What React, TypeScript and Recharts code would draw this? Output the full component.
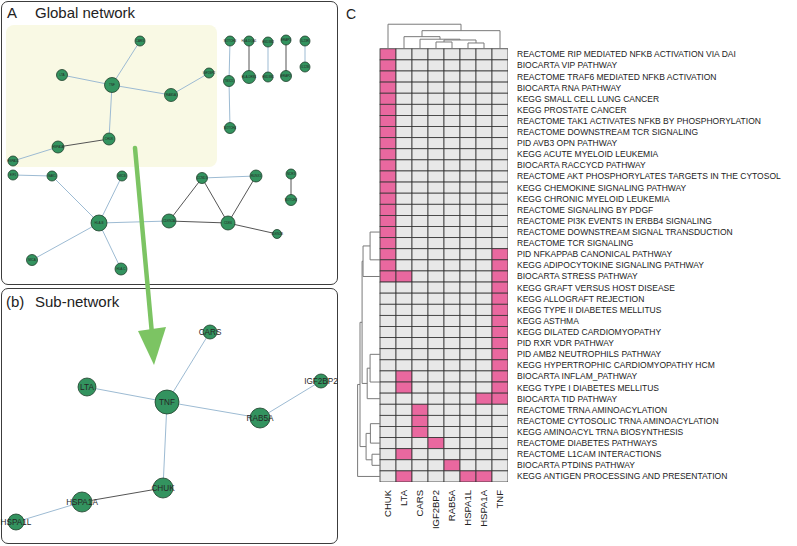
import { ScatterChart, Scatter, XAxis, YAxis } from 'recharts';

const FONT = '"Liberation Sans", Arial, Helvetica, sans-serif';

// ---------- panel C: gene x pathway membership ----------
const genes = ['CHUK', 'LTA', 'CARS', 'IGF2BP2', 'RAB5A', 'HSPA1L', 'HSPA1A', 'TNF'];

const pathways = [
  'REACTOME RIP MEDIATED NFKB ACTIVATION VIA DAI',
  'BIOCARTA VIP PATHWAY',
  'REACTOME TRAF6 MEDIATED NFKB ACTIVATION',
  'BIOCARTA RNA PATHWAY',
  'KEGG SMALL CELL LUNG CANCER',
  'KEGG PROSTATE CANCER',
  'REACTOME TAK1 ACTIVATES NFKB BY PHOSPHORYLATION',
  'REACTOME DOWNSTREAM TCR SIGNALING',
  'PID AVB3 OPN PATHWAY',
  'KEGG ACUTE MYELOID LEUKEMIA',
  'BIOCARTA RACCYCD PATHWAY',
  'REACTOME AKT PHOSPHORYLATES TARGETS IN THE CYTOSOL',
  'KEGG CHEMOKINE SIGNALING PATHWAY',
  'KEGG CHRONIC MYELOID LEUKEMIA',
  'REACTOME SIGNALING BY PDGF',
  'REACTOME PI3K EVENTS IN ERBB4 SIGNALING',
  'REACTOME DOWNSTREAM SIGNAL TRANSDUCTION',
  'REACTOME TCR SIGNALING',
  'PID NFKAPPAB CANONICAL PATHWAY',
  'KEGG ADIPOCYTOKINE SIGNALING PATHWAY',
  'BIOCARTA STRESS PATHWAY',
  'KEGG GRAFT VERSUS HOST DISEASE',
  'KEGG ALLOGRAFT REJECTION',
  'KEGG TYPE II DIABETES MELLITUS',
  'KEGG ASTHMA',
  'KEGG DILATED CARDIOMYOPATHY',
  'PID RXR VDR PATHWAY',
  'PID AMB2 NEUTROPHILS PATHWAY',
  'KEGG HYPERTROPHIC CARDIOMYOPATHY HCM',
  'BIOCARTA INFLAM_PATHWAY',
  'KEGG TYPE I DIABETES MELLITUS',
  'BIOCARTA TID PATHWAY',
  'REACTOME TRNA AMINOACYLATION',
  'REACTOME CYTOSOLIC TRNA AMINOACYLATION',
  'KEGG AMINOACYL TRNA BIOSYNTHESIS',
  'REACTOME DIABETES PATHWAYS',
  'REACTOME L1CAM INTERACTIONS',
  'BIOCARTA PTDINS PATHWAY',
  'KEGG ANTIGEN PROCESSING AND PRESENTATION',
];

const pathwayHits: string[][] = [
  ['CHUK'], ['CHUK'], ['CHUK'], ['CHUK'], ['CHUK'], ['CHUK'],
  ['CHUK'], ['CHUK'], ['CHUK'], ['CHUK'], ['CHUK'], ['CHUK'],
  ['CHUK'], ['CHUK'], ['CHUK'], ['CHUK'], ['CHUK'], ['CHUK'],
  ['CHUK', 'TNF'], ['CHUK', 'TNF'],
  ['CHUK', 'LTA', 'TNF'],
  ['TNF'], ['TNF'], ['TNF'], ['TNF'], ['TNF'], ['TNF'], ['TNF'], ['TNF'],
  ['LTA', 'TNF'], ['LTA', 'TNF'],
  ['HSPA1A', 'TNF'],
  ['CARS'], ['CARS'], ['CARS'],
  ['IGF2BP2'],
  ['LTA'],
  ['RAB5A'],
  ['LTA', 'HSPA1L', 'HSPA1A'],
];

// column dendrogram: [left, right, merge height]
const colMerges: [string, string, number][] = [
  ['IGF2BP2', 'RAB5A', 0.61],
  ['HSPA1L', 'HSPA1A', 0.52],
  ['m0', 'm1', 0.79],
  ['CARS', 'm2', 0.86],
  ['LTA', 'm3', 1.09],
  ['m4', 'TNF', 1.63],
  ['CHUK', 'm5', 2.21],
];

// row groups of identical rows [first, last]
const rowGroups: [number, number][] = [
  [0, 17], [18, 19], [20, 20], [21, 28], [29, 30], [31, 31],
  [32, 34], [35, 35], [36, 36], [37, 37], [38, 38],
];

// row dendrogram: [upper, lower, merge depth]
const rowMerges: [string, string, number][] = [
  ['g0', 'g1', 0.62],
  ['m0', 'g2', 1.06],
  ['g3', 'g4', 0.62],
  ['m2', 'g5', 0.8],
  ['m1', 'm3', 1.12],
  ['g6', 'g7', 0.6],
  ['g8', 'g9', 0.5],
  ['m5', 'm6', 0.87],
  ['m4', 'm7', 1.25],
  ['m8', 'g10', 1.4],
];

// ---------- panels A / B: network layouts ----------
type Node = { id: string; x: number; y: number; r: number };

const globalNodes: Node[] = [
  { id: 'CARS', x: 140, y: 41, r: 5 },
  { id: 'LTA', x: 62, y: 75, r: 5.5 },
  { id: 'TNF', x: 112, y: 85, r: 7.5 },
  { id: 'IGF2BP2', x: 209, y: 73, r: 5 },
  { id: 'RAB5A', x: 171, y: 95, r: 6.5 },
  { id: 'CHUK', x: 109, y: 139, r: 6 },
  { id: 'HSPA1A', x: 58, y: 147, r: 6 },
  { id: 'HSPA1L', x: 13, y: 161, r: 5 },
  { id: 'NOTCH3', x: 230, y: 41, r: 5 },
  { id: 'TBX21', x: 229, y: 81, r: 5.5 },
  { id: 'NOTCH4', x: 230, y: 128, r: 5.5 },
  { id: 'HLA-DQA1', x: 249, y: 41, r: 5 },
  { id: 'HLA-DRB1', x: 249, y: 77, r: 6.5 },
  { id: 'HSD3B2', x: 268, y: 42, r: 5 },
  { id: 'HSD3B1', x: 268, y: 77, r: 5 },
  { id: 'ERAP1', x: 286, y: 40, r: 5 },
  { id: 'ERAP2', x: 286, y: 76, r: 5.5 },
  { id: 'IL23R', x: 305, y: 41, r: 5 },
  { id: 'IL12B', x: 305, y: 67, r: 5 },
  { id: 'EIF1', x: 13, y: 175, r: 5 },
  { id: 'BAK1', x: 52, y: 176, r: 5 },
  { id: 'MICB', x: 122, y: 176, r: 5 },
  { id: 'HLA-B', x: 99, y: 223, r: 8 },
  { id: 'MICA', x: 32, y: 260, r: 5.5 },
  { id: 'HLA-C', x: 121, y: 269, r: 6 },
  { id: 'CDKN2A', x: 169, y: 221, r: 7 },
  { id: 'CCND1', x: 202, y: 178, r: 5.5 },
  { id: 'RUNX1', x: 256, y: 176, r: 6 },
  { id: 'CDK6', x: 228, y: 223, r: 7 },
  { id: 'CDKN2B', x: 277, y: 234, r: 4.5 },
  { id: 'NCR3', x: 291, y: 174, r: 5 },
  { id: 'NOTCH2', x: 291, y: 200, r: 5.5 },
];

// [source, target, kind] kind: 'p' = blue, 'g' = grey
const globalEdges: [string, string, string][] = [
  ['TNF', 'CARS', 'p'], ['TNF', 'LTA', 'p'], ['TNF', 'RAB5A', 'p'],
  ['RAB5A', 'IGF2BP2', 'p'], ['TNF', 'CHUK', 'p'], ['CHUK', 'HSPA1A', 'g'],
  ['HSPA1A', 'HSPA1L', 'p'],
  ['NOTCH3', 'TBX21', 'p'], ['TBX21', 'NOTCH4', 'p'],
  ['HLA-DQA1', 'HLA-DRB1', 'g'], ['HSD3B2', 'HSD3B1', 'p'], ['ERAP1', 'ERAP2', 'g'],
  ['IL23R', 'IL12B', 'p'],
  ['EIF1', 'BAK1', 'p'], ['BAK1', 'HLA-B', 'p'], ['MICB', 'HLA-B', 'p'],
  ['MICA', 'HLA-B', 'p'], ['HLA-C', 'HLA-B', 'p'], ['HLA-B', 'CDKN2A', 'p'],
  ['CDKN2A', 'CCND1', 'g'], ['CCND1', 'RUNX1', 'p'], ['CCND1', 'CDK6', 'g'],
  ['RUNX1', 'CDK6', 'g'], ['CDKN2A', 'CDK6', 'g'], ['CDK6', 'CDKN2B', 'g'],
  ['NCR3', 'NOTCH2', 'g'],
];

const subNodes: Node[] = [
  { id: 'CARS', x: 210, y: 332, r: 7 },
  { id: 'LTA', x: 87, y: 387, r: 9 },
  { id: 'TNF', x: 167, y: 402, r: 12 },
  { id: 'RAB5A', x: 260, y: 418, r: 10 },
  { id: 'IGF2BP2', x: 321, y: 381, r: 7 },
  { id: 'CHUK', x: 163, y: 488, r: 10 },
  { id: 'HSPA1A', x: 82, y: 502, r: 10 },
  { id: 'HSPA1L', x: 16, y: 522, r: 8 },
];

const subEdges: [string, string, string][] = [
  ['TNF', 'CARS', 'p'], ['TNF', 'LTA', 'p'], ['TNF', 'RAB5A', 'p'],
  ['RAB5A', 'IGF2BP2', 'p'], ['TNF', 'CHUK', 'p'], ['CHUK', 'HSPA1A', 'g'],
  ['HSPA1A', 'HSPA1L', 'p'],
];

// arrow from the highlighted module down to panel B
const arrowPath = [
  { x: 135, y: 148 },
  { x: 152, y: 334 },
];
const arrowTip = [{ x: 154, y: 365 }];

// ---------- layout constants ----------
const W = 797;
const H = 546;
const NET_W = 340;

const HM_LEFT = 340;
const HM_W = W - HM_LEFT;
const HM_MARGIN = { top: 21, right: 0, bottom: 4, left: 8 };
const Y_AXIS_W = 289;
const X_AXIS_H = 60;
const X_DOMAIN: [number, number] = [-2.5, 7.5];
const Y_DOMAIN: [number, number] = [-3, 38.5];
const COL_W = (HM_W - HM_MARGIN.left - HM_MARGIN.right - Y_AXIS_W) / (X_DOMAIN[1] - X_DOMAIN[0]);
const ROW_H = (H - HM_MARGIN.top - HM_MARGIN.bottom - X_AXIS_H) / (Y_DOMAIN[1] - Y_DOMAIN[0]);

const PINK = '#e9689f';
const CELL_GREY = '#e8e8e8';
const DENDRO = '#7a7a7a';
const EDGE_BLUE = '#9dbbd3';
const EDGE_GREY = '#555555';
const NODE_FILL = '#33935f';
const NODE_STROKE = '#1f3f2b';

// ---------- helpers ----------
type Pt = { p: number; h: number };

function buildDendro(leaves: Record<string, number>, merges: [string, string, number][]) {
  const pos: Record<string, Pt> = {};
  Object.keys(leaves).forEach((k) => (pos[k] = { p: leaves[k], h: 0 }));
  return merges.map(([a, b, h], i) => {
    const A = pos[a];
    const B = pos[b];
    pos['m' + i] = { p: (A.p + B.p) / 2, h };
    return [
      { p: A.p, h: A.h },
      { p: A.p, h },
      { p: B.p, h },
      { p: B.p, h: B.h },
    ];
  });
}

const colLeaves: Record<string, number> = {};
genes.forEach((g, i) => (colLeaves[g] = i));

// identical rows are chained at height zero; the group sits where the chain ends
const rowLeaves: Record<string, number> = {};
rowGroups.forEach(([a, b], i) => {
  let p = a;
  for (let r = a + 1; r <= b; r++) p = (p + r) / 2;
  rowLeaves['g' + i] = p;
});

const colLinks = buildDendro(colLeaves, colMerges).map((pts) =>
  pts.map((q) => ({ x: q.p, y: -0.5 - q.h }))
);
const rowLinks = buildDendro(rowLeaves, rowMerges).map((pts) =>
  pts.map((q) => ({ x: -0.5 - q.h, y: q.p }))
);

const cells = pathways.flatMap((_, r) =>
  genes.map((g, c) => ({ x: c, y: r, v: pathwayHits[r].includes(g) ? 1 : 0 }))
);

const noDot = () => <g />;

const cellShape = (props: any) => {
  const { cx, cy, payload } = props;
  return (
    <rect
      x={cx - COL_W / 2}
      y={cy - ROW_H / 2}
      width={COL_W}
      height={ROW_H}
      fill={payload.v ? PINK : CELL_GREY}
      stroke="#333"
      strokeWidth={0.8}
    />
  );
};

const nodeShape = (fontSize: number) => (props: any) => {
  const { cx, cy, payload } = props;
  return (
    <g>
      <circle cx={cx} cy={cy} r={payload.r} fill={NODE_FILL} stroke={NODE_STROKE} strokeWidth={0.8} />
      <text
        x={cx}
        y={cy}
        dy="0.35em"
        textAnchor="middle"
        fontSize={fontSize}
        fontFamily={FONT}
        fill="#262626"
      >
        {payload.id}
      </text>
    </g>
  );
};

const arrowHead = (props: any) => {
  const { cx, cy } = props;
  return <polygon points={`${cx},${cy} ${cx - 16},${cy - 34} ${cx + 12},${cy - 38}`} fill="#7cc463" />;
};

function edgeSeries(nodes: Node[], edges: [string, string, string][], key: string) {
  const byId: Record<string, Node> = {};
  nodes.forEach((n) => (byId[n.id] = n));
  return edges.map(([s, t, kind], i) => (
    <Scatter
      key={key + i}
      data={[byId[s], byId[t]]}
      dataKey="y"
      shape={noDot}
      line={{ stroke: kind === 'p' ? EDGE_BLUE : EDGE_GREY, strokeWidth: 1 }}
      lineType="joint"
      isAnimationActive={false}
    />
  ));
}

const colTick = (props: any) => {
  const { x, y, payload } = props;
  return (
    <text
      x={x}
      y={y}
      dy="0.35em"
      transform={`rotate(-90, ${x}, ${y})`}
      textAnchor="end"
      fontSize={9.5}
      fontFamily={FONT}
      fill="#222"
    >
      {genes[payload.value]}
    </text>
  );
};

const rowTick = (props: any) => {
  const { x, y, payload } = props;
  return (
    <text x={x + 1} y={y} dy="0.35em" textAnchor="start" fontSize={8.5} fontFamily={FONT} fill="#222">
      {pathways[payload.value]}
    </text>
  );
};

const boxStyle = {
  position: 'absolute' as const,
  left: 1,
  width: 337,
  border: '1.5px solid #3c3c3c',
  borderRadius: 7,
  boxSizing: 'border-box' as const,
};

const titleStyle = {
  position: 'absolute' as const,
  fontFamily: FONT,
  fontSize: 15,
  color: '#222',
  lineHeight: '16px',
};

export default function App() {
  return (
    <div style={{ position: 'relative', width: W, height: H, background: '#fff', overflow: 'hidden' }}>
      <style>{'body{margin:0}'}</style>

      {/* panel frames */}
      <div style={{ ...boxStyle, top: 1, height: 284 }} />
      <div style={{ ...boxStyle, top: 288, height: 256 }} />
      <div
        style={{
          position: 'absolute',
          left: 6,
          top: 25,
          width: 211,
          height: 142,
          background: '#f9f9e4',
          borderRadius: 8,
        }}
      />
      <div style={{ ...titleStyle, left: 7, top: 5 }}>A</div>
      <div style={{ ...titleStyle, left: 35, top: 5 }}>Global network</div>
      <div style={{ ...titleStyle, left: 6, top: 294 }}>(b)</div>
      <div style={{ ...titleStyle, left: 35, top: 294 }}>Sub-network</div>
      <div style={{ ...titleStyle, left: 346, top: 6, fontSize: 14 }}>C</div>

      {/* networks */}
      <div style={{ position: 'absolute', left: 0, top: 0 }}>
        <ScatterChart width={NET_W} height={H} margin={{ top: 0, right: 0, bottom: 0, left: 0 }}>
          <XAxis type="number" dataKey="x" domain={[0, NET_W]} hide />
          <YAxis type="number" dataKey="y" domain={[0, H]} reversed hide width={0} />
          {edgeSeries(globalNodes, globalEdges, 'ge')}
          <Scatter data={globalNodes} dataKey="y" shape={nodeShape(3)} isAnimationActive={false} />
          {edgeSeries(subNodes, subEdges, 'se')}
          <Scatter data={subNodes} dataKey="y" shape={nodeShape(8.2)} isAnimationActive={false} />
          <Scatter
            data={arrowPath}
            dataKey="y"
            shape={noDot}
            line={{ stroke: '#7cc463', strokeWidth: 4.5, strokeLinecap: 'round' }}
            lineType="joint"
            isAnimationActive={false}
          />
          <Scatter data={arrowTip} dataKey="y" shape={arrowHead} isAnimationActive={false} />
        </ScatterChart>
      </div>

      {/* heatmap with dendrograms */}
      <div style={{ position: 'absolute', left: HM_LEFT, top: 0 }}>
        <ScatterChart width={HM_W} height={H} margin={HM_MARGIN}>
          <XAxis
            type="number"
            dataKey="x"
            domain={X_DOMAIN}
            ticks={[0, 1, 2, 3, 4, 5, 6, 7]}
            interval={0}
            axisLine={false}
            tickLine={false}
            height={X_AXIS_H}
            tick={colTick}
            allowDataOverflow
          />
          <YAxis
            type="number"
            dataKey="y"
            domain={Y_DOMAIN}
            reversed
            orientation="right"
            width={Y_AXIS_W}
            ticks={pathways.map((_, i) => i)}
            interval={0}
            axisLine={false}
            tickLine={false}
            tick={rowTick}
            allowDataOverflow
          />
          <Scatter data={cells} dataKey="y" shape={cellShape} isAnimationActive={false} />
          {colLinks.map((pts, i) => (
            <Scatter
              key={'c' + i}
              data={pts}
              dataKey="y"
              shape={noDot}
              line={{ stroke: DENDRO, strokeWidth: 1 }}
              lineType="joint"
              isAnimationActive={false}
            />
          ))}
          {rowLinks.map((pts, i) => (
            <Scatter
              key={'r' + i}
              data={pts}
              dataKey="y"
              shape={noDot}
              line={{ stroke: DENDRO, strokeWidth: 1 }}
              lineType="joint"
              isAnimationActive={false}
            />
          ))}
        </ScatterChart>
      </div>
    </div>
  );
}
